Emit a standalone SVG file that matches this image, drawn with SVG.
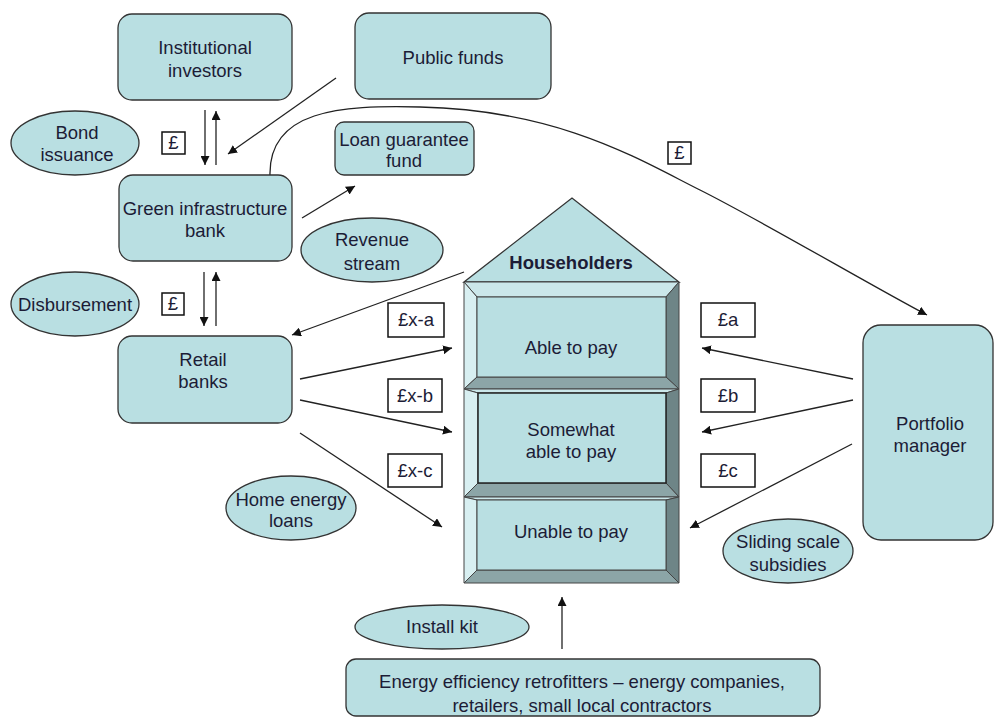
<svg xmlns="http://www.w3.org/2000/svg" width="995" height="718" viewBox="0 0 995 718">
<defs>
<marker id="ah" viewBox="0 0 10 10" refX="10" refY="5" markerWidth="9" markerHeight="9" markerUnits="userSpaceOnUse" orient="auto">
<path d="M0,0 L10,5 L0,10 Z" fill="#111"/>
</marker>
<style>
.n{fill:#b9dfe2;stroke:#333;stroke-width:1.3}
.t{font-family:"Liberation Sans",Arial,sans-serif;font-size:18.5px;fill:#1c1c36;text-anchor:middle}
.b{font-weight:bold}
.lb{fill:#fff;stroke:#111;stroke-width:1.5}
.c{fill:none;stroke:#222;stroke-width:1.3;marker-end:url(#ah)}
.bt{fill:#cbe7ea;stroke:#444;stroke-width:1}
.bl{fill:#d8eff1;stroke:#444;stroke-width:1}
.br{fill:#6e8587;stroke:#444;stroke-width:1}
.bb{fill:#8ca5a7;stroke:#444;stroke-width:1}
.bi{fill:#b9dfe2;stroke:#444;stroke-width:1}
</style>
</defs>
<rect width="995" height="718" fill="#fff"/>

<g id="connectors">
<line class="c" x1="205" y1="110" x2="205" y2="165"/>
<line class="c" x1="216" y1="165" x2="216" y2="111"/>
<line class="c" x1="336" y1="78" x2="228" y2="154"/>
<line class="c" x1="302" y1="218" x2="355" y2="186"/>
<line class="c" x1="204" y1="272" x2="204" y2="326"/>
<line class="c" x1="216" y1="326" x2="216" y2="272"/>
<line class="c" x1="464" y1="272" x2="292" y2="335"/>
<line class="c" x1="300" y1="379" x2="452" y2="348"/>
<line class="c" x1="300" y1="400" x2="452" y2="432"/>
<line class="c" x1="300" y1="433" x2="442" y2="527"/>
<line class="c" x1="853" y1="379" x2="702" y2="348"/>
<line class="c" x1="853" y1="400" x2="702" y2="432"/>
<line class="c" x1="852" y1="444" x2="690" y2="528"/>
<path class="c" d="M270,176 C268,110 340,105 420,107 C560,110 640,160 700,190 C760,220 870,285 927,315"/>
<line class="c" x1="562" y1="649" x2="562" y2="597"/>
</g>

<g id="labels">
<rect class="lb" x="162" y="132" width="23" height="22"/><text class="t" x="173.5" y="149">£</text>
<rect class="lb" x="162" y="293" width="22" height="22"/><text class="t" x="173" y="310">£</text>
<rect class="lb" x="668" y="142" width="23" height="22"/><text class="t" x="679.5" y="159">£</text>
<rect class="lb" x="388" y="303" width="56" height="34"/><text class="t" x="416" y="326">£x-a</text>
<rect class="lb" x="388" y="379" width="54" height="33"/><text class="t" x="415" y="402">£x-b</text>
<rect class="lb" x="388" y="454" width="54" height="33"/><text class="t" x="415" y="477">£x-c</text>
<rect class="lb" x="701" y="303" width="54" height="34"/><text class="t" x="728" y="326">£a</text>
<rect class="lb" x="701" y="379" width="54" height="33"/><text class="t" x="728" y="402">£b</text>
<rect class="lb" x="701" y="454" width="54" height="33"/><text class="t" x="728" y="477">£c</text>
</g>

<g id="institutional-investors">
<rect class="n" x="118" y="14" width="174" height="86" rx="14"/>
<text class="t" x="205" y="54">Institutional</text>
<text class="t" x="205" y="77">investors</text>
</g>
<g id="public-funds">
<rect class="n" x="355" y="13" width="196" height="86" rx="14"/>
<text class="t" x="453" y="64">Public funds</text>
</g>
<g id="loan-guarantee-fund">
<rect class="n" x="335" y="122" width="139" height="53" rx="9"/>
<text class="t" x="404" y="146">Loan guarantee</text>
<text class="t" x="404" y="167">fund</text>
</g>
<g id="green-infrastructure-bank">
<rect class="n" x="119" y="175" width="173" height="86" rx="14"/>
<text class="t" x="205" y="215">Green infrastructure</text>
<text class="t" x="205" y="237">bank</text>
</g>
<g id="retail-banks">
<rect class="n" x="118" y="336" width="174" height="87" rx="14"/>
<text class="t" x="203" y="366">Retail</text>
<text class="t" x="203" y="388">banks</text>
</g>
<g id="portfolio-manager">
<rect class="n" x="863" y="325" width="130" height="215" rx="18"/>
<text class="t" x="930" y="430">Portfolio</text>
<text class="t" x="930" y="452">manager</text>
</g>
<g id="energy-efficiency-retrofitters">
<rect class="n" x="346" y="659" width="474" height="57" rx="10"/>
<text class="t" x="582" y="688">Energy efficiency retrofitters – energy companies,</text>
<text class="t" x="582" y="712">retailers, small local contractors</text>
</g>

<g id="bond-issuance">
<ellipse class="n" cx="75" cy="143" rx="64" ry="32"/>
<text class="t" x="77" y="139">Bond</text>
<text class="t" x="77" y="161">issuance</text>
</g>
<g id="disbursement">
<ellipse class="n" cx="75" cy="304" rx="64" ry="32"/>
<text class="t" x="75" y="311">Disbursement</text>
</g>
<g id="revenue-stream">
<ellipse class="n" cx="372" cy="250" rx="71" ry="32"/>
<text class="t" x="372" y="246">Revenue</text>
<text class="t" x="372" y="270">stream</text>
</g>
<g id="home-energy-loans">
<ellipse class="n" cx="291" cy="508" rx="65" ry="32"/>
<text class="t" x="291" y="506">Home energy</text>
<text class="t" x="291" y="527">loans</text>
</g>
<g id="sliding-scale-subsidies">
<ellipse class="n" cx="788" cy="551" rx="65" ry="32"/>
<text class="t" x="788" y="548">Sliding scale</text>
<text class="t" x="788" y="571">subsidies</text>
</g>
<g id="install-kit">
<ellipse class="n" cx="442" cy="627" rx="87" ry="22"/>
<text class="t" x="442" y="633">Install kit</text>
</g>

<g id="householders">
<polygon class="n" points="464,282 572,198 679,282"/>
<text class="t b" x="571" y="269">Householders</text>
</g>
<g id="able-to-pay">
<polygon class="bt" points="464,282 679,282 666,297 477,297"/>
<polygon class="bl" points="464,282 477,297 477,377 464,389"/>
<polygon class="br" points="679,282 679,389 666,377 666,297"/>
<polygon class="bb" points="464,389 477,377 666,377 679,389"/>
<rect class="bi" x="477" y="297" width="189" height="80"/>
<text class="t" x="571" y="354">Able to pay</text>
</g>
<g id="somewhat-able-to-pay">
<polygon class="bt" points="464,389 679,389 666,393 478,393"/>
<polygon class="bl" points="464,389 478,393 478,483 464,497"/>
<polygon class="br" points="679,389 679,497 666,483 666,393"/>
<polygon class="bb" points="464,497 478,483 666,483 679,497"/>
<rect class="bi" x="478" y="393" width="188" height="90" style="stroke:#222;stroke-width:1.5"/>
<text class="t" x="571" y="436">Somewhat</text>
<text class="t" x="571" y="458">able to pay</text>
</g>
<g id="unable-to-pay">
<polygon class="bt" points="464,497 679,497 666,500 477,500"/>
<polygon class="bl" points="464,497 477,500 477,570 464,583"/>
<polygon class="br" points="679,497 679,583 666,570 666,500"/>
<polygon class="bb" points="464,583 477,570 666,570 679,583"/>
<rect class="bi" x="477" y="500" width="189" height="70"/>
<text class="t" x="571" y="538">Unable to pay</text>
</g>
</svg>
